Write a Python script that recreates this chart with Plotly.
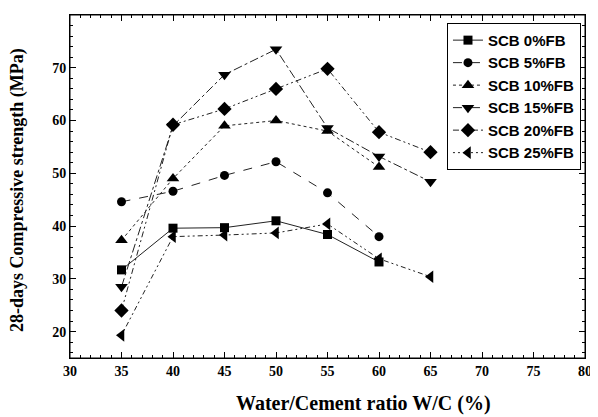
import plotly.graph_objects as go

wc_ratio = [35, 40, 45, 50, 55, 60, 65]
names = ["SCB 0%FB", "SCB 5%FB", "SCB 10%FB", "SCB 15%FB", "SCB 20%FB", "SCB 25%FB"]
fb0 = [31.7, 39.6, 39.7, 41.0, 38.4, 33.2, None]
fb5 = [44.6, 46.6, 49.6, 52.2, 46.3, 38.0, None]
fb10 = [37.3, 49.0, 59.0, 60.0, 58.0, 51.2, None]
fb15 = [28.5, 59.0, 68.7, 73.5, 58.6, 53.2, 48.4]
fb20 = [24.0, 59.2, 62.2, 66.0, 69.8, 57.8, 54.0]
fb25 = [19.3, 38.0, 38.3, 38.7, 40.4, 33.8, 30.4]

x_ticks = [30, 35, 40, 45, 50, 55, 60, 65, 70, 75, 80]
y_ticks = [20, 30, 40, 50, 60, 70, 80]

series = [fb0, fb5, fb10, fb15, fb20, fb25]
symbols = ["square", "circle", "triangle-up", "triangle-down", "diamond", "triangle-left"]
dashes = ["solid", "dash", "dot", "dashdot", "6px,3px,2px,3px,2px,3px", "2px,3px,2px,3px,5px,3px"]
msizes = [9, 9, 11, 11, 11, 11]

fig = go.Figure()
for name, ys, sym, dash, ms in zip(names, series, symbols, dashes, msizes):
    xs = [x for x, y in zip(wc_ratio, ys) if y is not None]
    yv = [y for y in ys if y is not None]
    fig.add_trace(go.Scatter(
        x=xs, y=yv, name=name, mode="lines+markers",
        line=dict(color="#222222", width=1, dash=dash),
        marker=dict(symbol=sym, size=ms, color="black"),
    ))

# page body has an 8px default margin, so the figure is sized/offset to compensate
tickfont = dict(family="Liberation Serif", size=14, color="black", weight="bold")
fig.update_layout(
    width=590, height=409,
    margin=dict(l=62, r=13, t=7, b=59, autoexpand=False),
    paper_bgcolor="white", plot_bgcolor="white",
    showlegend=True,
    legend=dict(
        x=0.732, y=0.977, xanchor="left", yanchor="top",
        bordercolor="black", borderwidth=1, bgcolor="white",
        font=dict(family="Liberation Sans", size=15, color="black", weight="bold"),
        tracegroupgap=0, itemwidth=30,
    ),
    xaxis=dict(
        range=[30, 80], tickvals=x_ticks, automargin=False,
        showline=True, linecolor="black", linewidth=1, mirror="ticks",
        ticks="inside", ticklen=6, tickcolor="black",
        minor=dict(dtick=1, tick0=0, ticks="inside", ticklen=3, tickcolor="black"),
        showgrid=False, zeroline=False,
        tickfont=tickfont,
    ),
    yaxis=dict(
        range=[15, 80], tickvals=y_ticks, automargin=False,
        showline=True, linecolor="black", linewidth=1, mirror="ticks",
        ticks="inside", ticklen=6, tickcolor="black",
        minor=dict(dtick=2, tick0=0, ticks="inside", ticklen=3, tickcolor="black"),
        showgrid=False, zeroline=False,
        tickfont=tickfont,
    ),
    shapes=[dict(type="rect", xref="paper", yref="paper", x0=0, y0=0, x1=1, y1=1,
                 line=dict(color="black", width=1), layer="above")],
    annotations=[
        dict(text="Water/Cement ratio W/C (%)", xref="paper", yref="paper",
             x=(363 - 70) / 515, y=-(403 - 358) / 343, xanchor="center", yanchor="middle",
             showarrow=False,
             font=dict(family="Liberation Serif", size=20, color="black", weight="bold")),
        dict(text="28-days Compressive strength (MPa)", xref="paper", yref="paper",
             x=-(70 - 17) / 515, y=(358 - 190) / 343, xanchor="center", yanchor="middle",
             textangle=-90, showarrow=False,
             font=dict(family="Liberation Serif", size=18, color="black", weight="bold")),
    ],
)

fig.write_html("out.html")
